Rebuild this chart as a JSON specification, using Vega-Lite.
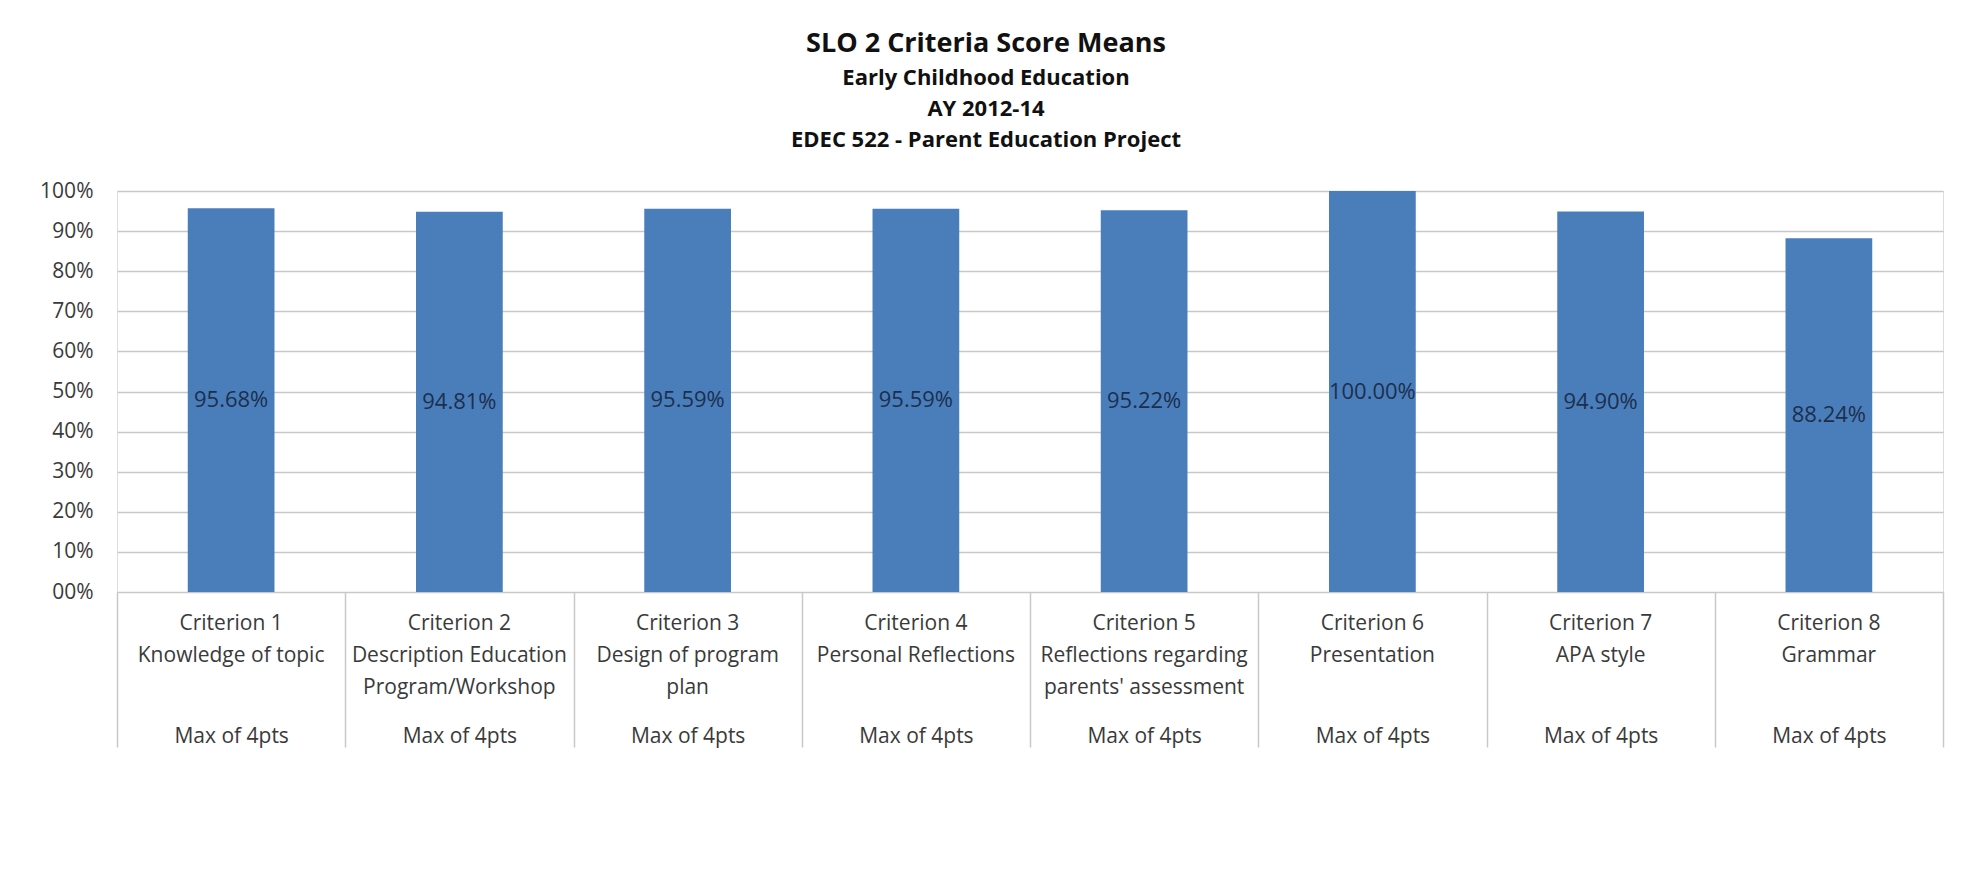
{
  "$schema": "https://vega.github.io/schema/vega-lite/v6.json",
  "width": 1826,
  "height": 401,
  "autosize": {"type": "none"},
  "padding": {"left": 117, "top": 191, "right": 30, "bottom": 293},
  "background": "white",
  "title": {
    "text": "SLO 2 Criteria Score Means",
    "subtitle": ["Early Childhood Education", "AY 2012-14", "EDEC 522 - Parent Education Project"],
    "anchor": "middle",
    "frame": "group",
    "dx": -44,
    "offset": 28,
    "font": "Open Sans",
    "fontSize": 27,
    "fontWeight": "bold",
    "color": "#111111",
    "subtitleFont": "Open Sans",
    "subtitleFontSize": 22,
    "subtitleFontWeight": "bold",
    "subtitleColor": "#111111",
    "subtitleLineHeight": 31,
    "subtitlePadding": 10
  },
  "data": {
    "values": [
      {"label": "Criterion 1|Knowledge of topic", "value": 0.9568},
      {"label": "Criterion 2|Description Education|Program/Workshop", "value": 0.9481},
      {"label": "Criterion 3|Design of program|plan", "value": 0.9559},
      {"label": "Criterion 4|Personal Reflections", "value": 0.9559},
      {"label": "Criterion 5|Reflections regarding|parents' assessment", "value": 0.9522},
      {"label": "Criterion 6|Presentation", "value": 1.0},
      {"label": "Criterion 7|APA style", "value": 0.949},
      {"label": "Criterion 8|Grammar", "value": 0.8824}
    ]
  },
  "layer": [
    {
      "mark": {"type": "bar", "color": "#4a7ebb", "width": {"band": 0.38}},
      "encoding": {
        "x": {
          "field": "label",
          "type": "nominal",
          "sort": null,
          "scale": {"paddingInner": 0, "paddingOuter": 0},
          "axis": {
            "orient": "bottom",
            "title": null,
            "labelAngle": 0,
            "ticks": false,
            "domain": false,
            "grid": false,
            "labelExpr": "split(datum.label, '|')",
            "labelFont": "Open Sans",
            "labelFontSize": 21,
            "labelColor": "#3a3a3a",
            "labelLineHeight": 32,
            "labelPadding": 20,
            "labelBaseline": "top",
            "labelLimit": 400
          }
        },
        "y": {
          "field": "value",
          "type": "quantitative",
          "scale": {"domain": [0, 1]},
          "axis": {
            "title": null,
            "values": [0, 0.1, 0.2, 0.3, 0.4, 0.5, 0.6, 0.7, 0.8, 0.9, 1.0],
            "labelExpr": "datum.value == 0 ? '00%' : format(datum.value, '.0%')",
            "domain": false,
            "ticks": false,
            "grid": true,
            "gridColor": "#c8c8c8",
            "gridWidth": 1.5,
            "labelFont": "Open Sans",
            "labelFontSize": 21,
            "labelColor": "#3a3a3a",
            "labelPadding": 24
          }
        }
      }
    },
    {
      "mark": {"type": "text", "font": "Open Sans", "fontSize": 22, "color": "#1c2f4d", "baseline": "middle", "align": "center"},
      "encoding": {
        "x": {
          "field": "label",
          "type": "nominal",
          "sort": null,
          "scale": {"paddingInner": 0, "paddingOuter": 0},
          "axis": {
            "orient": "bottom",
            "title": null,
            "labelAngle": 0,
            "domain": false,
            "grid": false,
            "ticks": true,
            "tickBand": "extent",
            "tickSize": 155,
            "tickColor": "#c8c8c8",
            "tickWidth": 1.5,
            "labelExpr": "datum.label == '' ? '' : 'Max of 4pts'",
            "labelFont": "Open Sans",
            "labelFontSize": 21,
            "labelColor": "#3a3a3a",
            "labelPadding": -22,
            "labelBaseline": "top"
          }
        },
        "y": {
          "field": "value",
          "type": "quantitative",
          "scale": {"domain": [0, 2]},
          "axis": null
        },
        "text": {"field": "value", "type": "quantitative", "format": ".2%"}
      }
    }
  ],
  "resolve": {"scale": {"y": "independent"}, "axis": {"x": "independent"}}
}
